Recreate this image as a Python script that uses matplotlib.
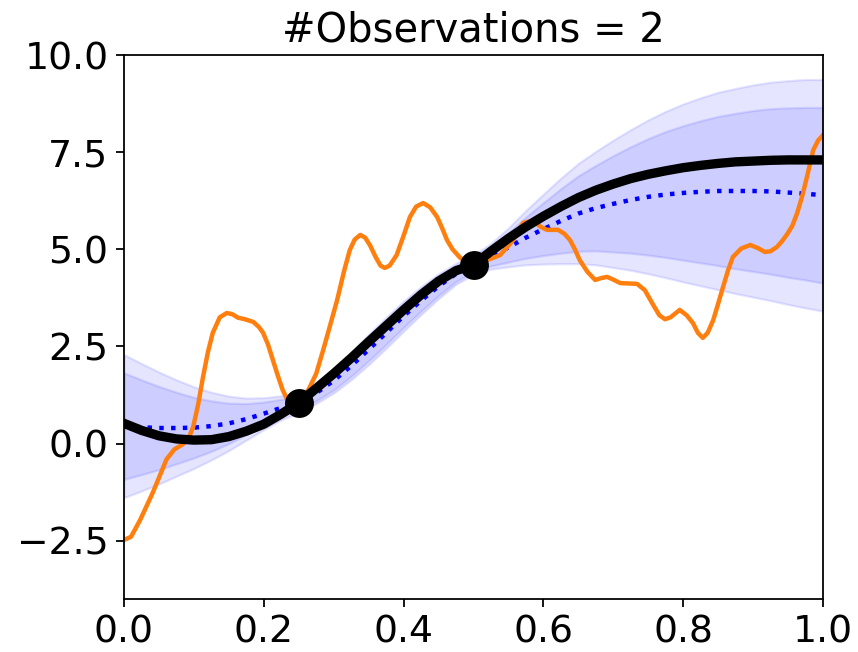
import numpy as np
import matplotlib
matplotlib.use('Agg')
import matplotlib.pyplot as plt

####################################################################################################
# observations
obs_x = [0.25, 0.5]
obs_y = [1.05, 4.6]

# grid for the smooth curves
grid = [0.0, 0.025, 0.05, 0.075, 0.1, 0.125, 0.15, 0.175, 0.2, 0.225,
        0.25, 0.275, 0.3, 0.325, 0.35, 0.375, 0.4, 0.425, 0.45, 0.475,
        0.5, 0.525, 0.55, 0.575, 0.6, 0.625, 0.65, 0.675, 0.7, 0.725,
        0.75, 0.775, 0.8, 0.825, 0.85, 0.875, 0.9, 0.925, 0.95, 0.975, 1.0]

# thick black curve
black_y = [0.52, 0.34, 0.2, 0.12, 0.09, 0.1, 0.18, 0.32, 0.5, 0.76,
           1.05, 1.42, 1.8, 2.2, 2.62, 3.03, 3.44, 3.83, 4.18, 4.45,
           4.6, 4.95, 5.28, 5.58, 5.85, 6.1, 6.33, 6.52, 6.68, 6.82,
           6.93, 7.02, 7.1, 7.16, 7.21, 7.25, 7.27, 7.29, 7.3, 7.3, 7.3]

# posterior mean (blue dotted)
mean_y = [0.45, 0.42, 0.4, 0.4, 0.41, 0.45, 0.52, 0.63, 0.77, 0.92,
          1.05, 1.3, 1.62, 2.0, 2.42, 2.85, 3.28, 3.68, 4.05, 4.37,
          4.6, 4.82, 5.05, 5.3, 5.52, 5.73, 5.92, 6.06, 6.17, 6.27,
          6.35, 6.41, 6.45, 6.48, 6.5, 6.5, 6.5, 6.49, 6.46, 6.43, 6.39]

# half widths of the two bands
inner_half = [1.37, 1.22, 1.07, 0.92, 0.78, 0.65, 0.52, 0.4, 0.3, 0.22,
              0.18, 0.2, 0.24, 0.27, 0.29, 0.3, 0.29, 0.27, 0.24, 0.2,
              0.18, 0.25, 0.38, 0.53, 0.68, 0.83, 0.97, 1.1, 1.24, 1.37,
              1.5, 1.62, 1.73, 1.83, 1.92, 2.0, 2.07, 2.13, 2.18, 2.22, 2.26]
outer_half = [1.84, 1.64, 1.44, 1.24, 1.05, 0.87, 0.7, 0.54, 0.41, 0.31,
              0.25, 0.27, 0.32, 0.36, 0.39, 0.4, 0.39, 0.36, 0.32, 0.27,
              0.25, 0.33, 0.5, 0.7, 0.9, 1.1, 1.29, 1.46, 1.64, 1.81,
              1.98, 2.14, 2.29, 2.42, 2.54, 2.64, 2.73, 2.81, 2.88, 2.94, 2.98]

# true function (orange)
true_x = [0.0, 0.01, 0.023, 0.041, 0.061, 0.072, 0.084, 0.092, 0.099, 0.106,
          0.113, 0.12, 0.127, 0.137, 0.147, 0.155, 0.163, 0.173, 0.185, 0.193,
          0.199, 0.206, 0.213, 0.22, 0.227, 0.235, 0.25, 0.263, 0.275, 0.285,
          0.295, 0.305, 0.315, 0.323, 0.33, 0.338, 0.345, 0.352, 0.36, 0.367,
          0.373, 0.38, 0.39, 0.4, 0.409, 0.418, 0.428, 0.438, 0.448, 0.455,
          0.462, 0.47, 0.481, 0.492, 0.5, 0.51, 0.519, 0.528, 0.538, 0.548,
          0.557, 0.565, 0.571, 0.58, 0.588, 0.596, 0.605, 0.613, 0.621, 0.63,
          0.638, 0.645, 0.652, 0.663, 0.674, 0.683, 0.691, 0.7, 0.71, 0.722,
          0.734, 0.745, 0.757, 0.766, 0.774, 0.782, 0.795, 0.805, 0.814, 0.821,
          0.828, 0.835, 0.843, 0.85, 0.857, 0.864, 0.871, 0.883, 0.896, 0.907,
          0.917, 0.925, 0.934, 0.941, 0.948, 0.956, 0.963, 0.97, 0.977, 0.986,
          0.993, 1.0]
true_y = [-2.48, -2.4, -1.97, -1.27, -0.4, -0.15, -0.02, 0.12, 0.43, 1.0,
          1.71, 2.35, 2.85, 3.25, 3.36, 3.33, 3.24, 3.2, 3.13, 3.0,
          2.85, 2.55, 2.15, 1.75, 1.38, 1.08, 1.05, 1.35, 1.8, 2.41,
          3.05, 3.7, 4.45, 4.98, 5.25, 5.37, 5.3, 5.1, 4.8, 4.58,
          4.52, 4.58, 4.85, 5.35, 5.83, 6.1, 6.19, 6.08, 5.83, 5.55,
          5.24, 5.0, 4.78, 4.65, 4.6, 4.62, 4.72, 4.78, 4.85, 5.05,
          5.24, 5.5, 5.68, 5.72, 5.7, 5.58, 5.5, 5.5, 5.5, 5.4,
          5.24, 5.0, 4.72, 4.42, 4.21, 4.26, 4.29, 4.22, 4.13, 4.12,
          4.11, 3.95, 3.57, 3.3, 3.2, 3.25, 3.44, 3.3, 3.1, 2.85,
          2.72, 2.85, 3.18, 3.6, 4.03, 4.45, 4.8, 5.02, 5.11, 5.03,
          4.93, 4.95, 5.06, 5.2, 5.37, 5.6, 5.93, 6.35, 6.86, 7.55,
          7.8, 7.94]

####################################################################################################
grid = np.array(grid)
mean_y = np.array(mean_y)
inner_half = np.array(inner_half)
outer_half = np.array(outer_half)

fig = plt.figure(figsize=(858 / 160, 652 / 160), dpi=160)
ax = fig.add_axes([124 / 858, 1 - 599 / 652, 699 / 858, 544 / 652])

ax.fill_between(grid, mean_y - outer_half, mean_y + outer_half, color='blue', alpha=0.1)
ax.fill_between(grid, mean_y - inner_half, mean_y + inner_half, color='blue', alpha=0.1)
ax.plot(grid, mean_y, ':', color='blue', lw=2)
ax.plot(true_x, true_y, color='C1', lw=2, solid_joinstyle='round')
ax.plot(grid, black_y, color='black', lw=4.2)
ax.plot(obs_x, obs_y, 'o', color='black', ms=12)

ax.set_xlim(0, 1)
ax.set_ylim(-4, 10)
ax.set_xticks([0.0, 0.2, 0.4, 0.6, 0.8, 1.0])
ax.set_yticks([-2.5, 0.0, 2.5, 5.0, 7.5, 10.0])
ax.tick_params(labelsize=17)
ax.set_title('#Observations = 2', fontsize=18)

fig.savefig('out.png', dpi=160)
